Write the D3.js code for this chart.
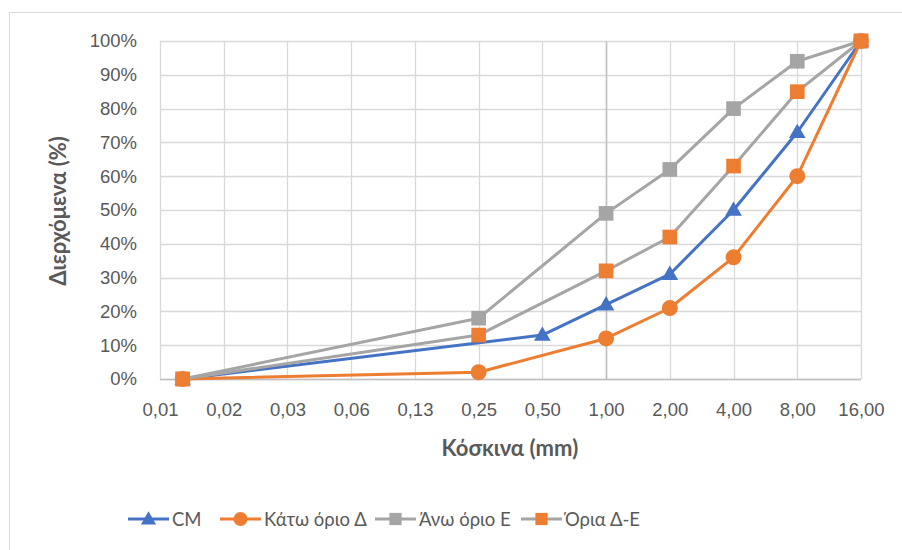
<!DOCTYPE html>
<html lang="el">
<head>
<meta charset="utf-8">
<title>Κοκκομετρική καμπύλη</title>
<script src="https://d3js.org/d3.v7.min.js"></script>
<style>
  body { margin: 0; background-color: #fff; }
  svg { display: block; background-color: #fff; font-family: "Lato", "Noto Sans", sans-serif; }
  .tick text { fill: #595959; font-size: 18.5px; }
  .title { fill: #595959; font-size: 22px; font-weight: bold; }
  .legend text { fill: #595959; font-size: 18.5px; }
</style>
</head>
<body>
<script>
// sieve sizes (mm) and passing percentages
var sieves = [0.01, 0.25, 0.5, 1, 2, 4, 8, 16];
var cm     = [0, null, 13, 22, 31, 50, 73, 100];
var lowerD = [0, 2, null, 12, 21, 36, 60, 100];
var upperE = [0, 18, null, 49, 62, 80, 94, 100];
var limitsDE = [0, 13, null, 32, 42, 63, 85, 100];

var xTickValues = [16/2048, 16/1024, 16/512, 16/256, 16/128, 16/64, 16/32, 16/16, 2, 4, 8, 16];
var xTickLabels = ["0,01", "0,02", "0,03", "0,06", "0,13", "0,25", "0,50", "1,00", "2,00", "4,00", "8,00", "16,00"];
var yTicks = [0, 10, 20, 30, 40, 50, 60, 70, 80, 90, 100];

var series = [
  { name: "CM", values: cm, line: "#4472C4", marker: "#4472C4", shape: d3.symbolTriangle },
  { name: "Κάτω όριο Δ", values: lowerD, line: "#ED7D31", marker: "#ED7D31", shape: d3.symbolCircle },
  { name: "Άνω όριο Ε", values: upperE, line: "#A5A5A5", marker: "#A5A5A5", shape: d3.symbolSquare },
  { name: "Όρια Δ-Ε", values: limitsDE, line: "#A5A5A5", marker: "#ED7D31", shape: d3.symbolSquare }
];

var W = 902, H = 550;
var svg = d3.select("body").append("svg").attr("width", W).attr("height", H);

svg.append("rect")
  .attr("x", 9.5).attr("y", 12.5)
  .attr("width", W).attr("height", H)
  .attr("fill", "none").attr("stroke", "#d9d9d9");

var x = d3.scaleLog().base(2).domain([16/2048, 16]).range([160, 861]);
var y = d3.scaleLinear().domain([0, 100]).range([379, 41]);

// grid
svg.append("g").selectAll("line").data(yTicks).enter().append("line")
  .attr("x1", 160).attr("x2", 861)
  .attr("y1", function(d) { return Math.round(y(d)) + 0.5; })
  .attr("y2", function(d) { return Math.round(y(d)) + 0.5; })
  .attr("stroke", "#d9d9d9").attr("stroke-width", 1.3);

svg.append("g").selectAll("line").data(xTickValues).enter().append("line")
  .attr("x1", function(d) { return Math.round(x(d)) + 0.5; })
  .attr("x2", function(d) { return Math.round(x(d)) + 0.5; })
  .attr("y1", 41).attr("y2", 379)
  .attr("stroke", "#d9d9d9").attr("stroke-width", 1.3);

// axis lines (vertical axis crosses at 1)
svg.append("line")
  .attr("x1", 160).attr("x2", 861).attr("y1", 379.5).attr("y2", 379.5)
  .attr("stroke", "#bfbfbf").attr("stroke-width", 1.5);
svg.append("line")
  .attr("x1", Math.round(x(1)) + 0.5).attr("x2", Math.round(x(1)) + 0.5)
  .attr("y1", 41).attr("y2", 379)
  .attr("stroke", "#bfbfbf").attr("stroke-width", 1.5);

// axes
var xAxis = d3.axisBottom(x)
  .tickValues(xTickValues)
  .tickFormat(function(d, i) { return xTickLabels[i]; })
  .tickSize(0).tickPadding(14);
svg.append("g").attr("transform", "translate(0,389)").call(xAxis)
  .call(function(g) { g.select(".domain").remove(); });

var yAxis = d3.axisLeft(y)
  .tickValues(yTicks)
  .tickFormat(function(d) { return d + "%"; })
  .tickSize(0).tickPadding(8);
svg.append("g").attr("transform", "translate(145,0)").call(yAxis)
  .call(function(g) { g.select(".domain").remove(); });

svg.selectAll(".tick text").attr("font-family", null).attr("font-size", null);

// titles
svg.append("text").attr("class", "title")
  .attr("x", 510).attr("y", 456).attr("text-anchor", "middle")
  .text("Κόσκινα (mm)");
svg.append("text").attr("class", "title")
  .attr("transform", "translate(66,211) rotate(-90)")
  .attr("text-anchor", "middle")
  .text("Διερχόμενα (%)");

// series
var line = d3.line()
  .x(function(d) { return x(d.s); })
  .y(function(d) { return y(d.v); });

function markerSize(shape) {
  if (shape === d3.symbolTriangle) return 120;
  if (shape === d3.symbolCircle) return 200;
  return 215;
}

series.forEach(function(s) {
  var pts = sieves.map(function(v, i) { return { s: v, v: s.values[i] }; })
    .filter(function(d) { return d.v !== null; });
  var g = svg.append("g");
  g.append("path").datum(pts)
    .attr("d", line)
    .attr("fill", "none")
    .attr("stroke", s.line)
    .attr("stroke-width", 3)
    .attr("stroke-linejoin", "round");
  g.selectAll("path.m").data(pts).enter().append("path")
    .attr("class", "m")
    .attr("d", d3.symbol().type(s.shape).size(markerSize(s.shape)))
    .attr("transform", function(d) {
      var dy = s.shape === d3.symbolTriangle ? 1 : 0;
      return "translate(" + x(d.s) + "," + (y(d.v) + dy) + ")";
    })
    .attr("fill", s.marker);
});

// legend
var legendX = [128, 220, 375, 521];
var legend = svg.append("g").attr("class", "legend");
series.forEach(function(s, i) {
  var lg = legend.append("g").attr("transform", "translate(" + legendX[i] + ",519)");
  lg.append("line").attr("x1", 0).attr("x2", 41).attr("y1", 0).attr("y2", 0)
    .attr("stroke", s.line).attr("stroke-width", 3);
  lg.append("path")
    .attr("d", d3.symbol().type(s.shape).size(s.shape === d3.symbolTriangle ? 100 : 150))
    .attr("transform", "translate(20.5," + (s.shape === d3.symbolTriangle ? 1 : 0) + ")")
    .attr("fill", s.marker);
  lg.append("text").attr("x", 44).attr("y", 6.5).text(s.name);
});
</script>
</body>
</html>
